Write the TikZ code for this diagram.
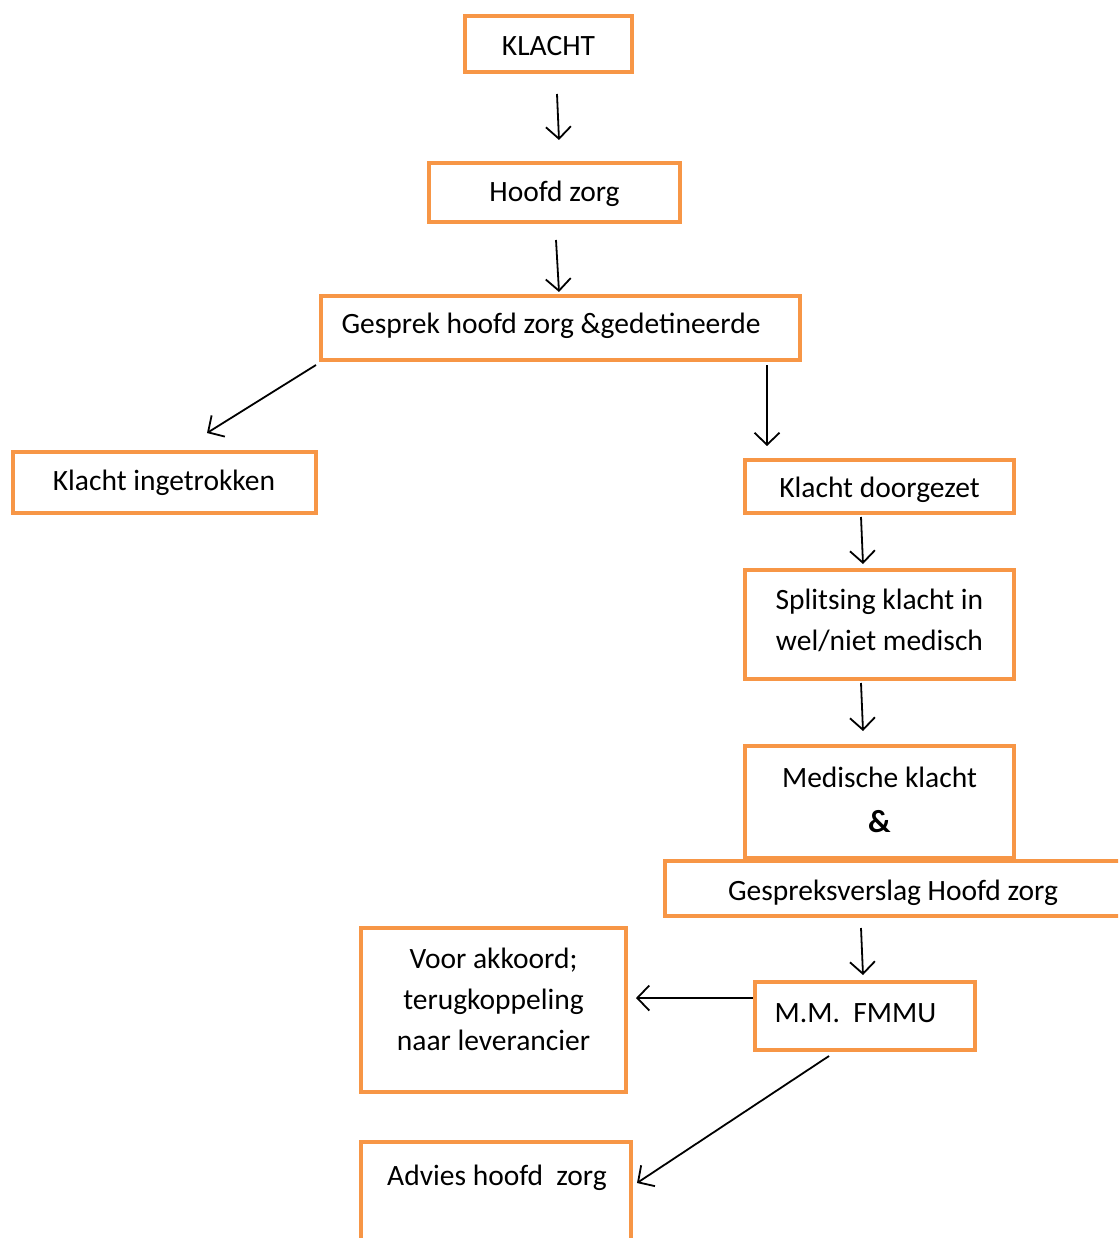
\documentclass[tikz,border=0pt]{standalone}
\usepackage{fontspec}
\setmainfont{Carlito}
\usetikzlibrary{arrows.meta,calc}
\definecolor{bord}{HTML}{F79646}
\begin{document}
\begin{tikzpicture}[x=1pt,y=-1pt,
  box/.style={draw=bord,line width=4pt,fill=white,inner sep=0pt,rectangle},
  txt/.style={inner sep=0pt,align=center,font=\fontsize{29.5}{41}\selectfont},
  arr/.style={draw=black,line width=1.8pt,-{Straight Barb[length=12pt,width=25pt,line width=1.8pt]}}]
\useasboundingbox[fill=white] (0,0) rectangle (1118,1238);
\begin{scope}
\clip (0,0) rectangle (1118,1238);
% boxes
\node[box,minimum width=167,minimum height=56] (b1) at (548.5,44) {};
\node[box,minimum width=251,minimum height=59] (b2) at (554.5,192.5) {};
\node[box,minimum width=479,minimum height=64] (b3) at (560.5,328) {};
\node[box,minimum width=303,minimum height=61] (b4) at (164.5,482.5) {};
\node[box,minimum width=269,minimum height=53] (b5) at (879.5,486.5) {};
\node[box,minimum width=269,minimum height=109] (b6) at (879.5,624.5) {};
\node[box,minimum width=269,minimum height=112] (b7) at (879.5,802) {};
\node[box,minimum width=462,minimum height=55] (b8) at (896,888.5) {};
\node[box,minimum width=265,minimum height=164] (b9) at (493.5,1010) {};
\node[box,minimum width=220,minimum height=68] (b10) at (865,1016) {};
\node[box,minimum width=270,minimum height=116] (b11) at (496,1200) {};
% texts
\node[txt] (t1) at (548.5,46) {KLACHT};
\node[txt] (t2) at (554.5,194) {Hoofd zorg};
\node[txt] (t3) at (551,326) {Gesprek hoofd zorg \&gedetineerde};
\node[txt] (t4) at (164,483) {Klacht ingetrokken};
\node[txt] (t5) at (879.5,490) {Klacht doorgezet};
\node[txt] (t6) at (879.5,620) {Splitsing klacht in\\wel/niet medisch};
\node[txt] (t7) at (879.5,777) {Medische klacht};
\node[txt,font=\fontsize{32}{36}\selectfont\bfseries] (t7b) at (879.5,822) {\&};
\node[txt] (t8) at (893,893) {Gespreksverslag Hoofd zorg};
\node[txt] (t9) at (493.5,999) {Voor akkoord;\\terugkoppeling\\naar leverancier};
\node[txt] (t10) at (855.5,1013) {M.M.\ \ FMMU};
\node[txt] (t11) at (497,1178) {Advies hoofd\ \ zorg};
\end{scope}
% connector ends
\coordinate (a1s) at ($(b1.south)+(8.5,20)$);
\coordinate (a1e) at ($(b2.north)+(4.5,-21)$);
\coordinate (a2s) at ($(b2.south)+(1.5,16)$);
\coordinate (a2e) at ($(b3.north)+(-1.5,-2)$);
\coordinate (a3s) at ($(b3.south west)+(-3,3)$);
\coordinate (a3e) at ($(b4.north)+(42.5,-17)$);
\coordinate (a4s) at ($(b3.south east)+(-35,3)$);
\coordinate (a4e) at ($(b5.north)+(-112.5,-12)$);
\coordinate (a5s) at ($(b5.south)+(-18.5,2)$);
\coordinate (a5e) at ($(b6.north)+(-16.5,-4)$);
\coordinate (a6s) at ($(b6.south)+(-18.5,2)$);
\coordinate (a6e) at ($(b7.north)+(-16.5,-13)$);
\coordinate (a7s) at ($(b8.south)+(-35,10)$);
\coordinate (a7e) at ($(b10.north)+(-2,-5)$);
\coordinate (a8s) at ($(b10.west)+(0,-18)$);
\coordinate (a8e) at ($(b9.east)+(8,-12)$);
\coordinate (a9s) at ($(b10.south)+(-36,4)$);
\coordinate (a9e) at ($(b11.east)+(4,-17)$);
\draw[arr] (a1s) -- (a1e);
\draw[arr] (a2s) -- (a2e);
\draw[arr] (a3s) -- (a3e);
\draw[arr] (a4s) -- (a4e);
\draw[arr] (a5s) -- (a5e);
\draw[arr] (a6s) -- (a6e);
\draw[arr] (a7s) -- (a7e);
\draw[arr] (a8s) -- (a8e);
\draw[arr] (a9s) -- (a9e);
\end{tikzpicture}
\end{document}
